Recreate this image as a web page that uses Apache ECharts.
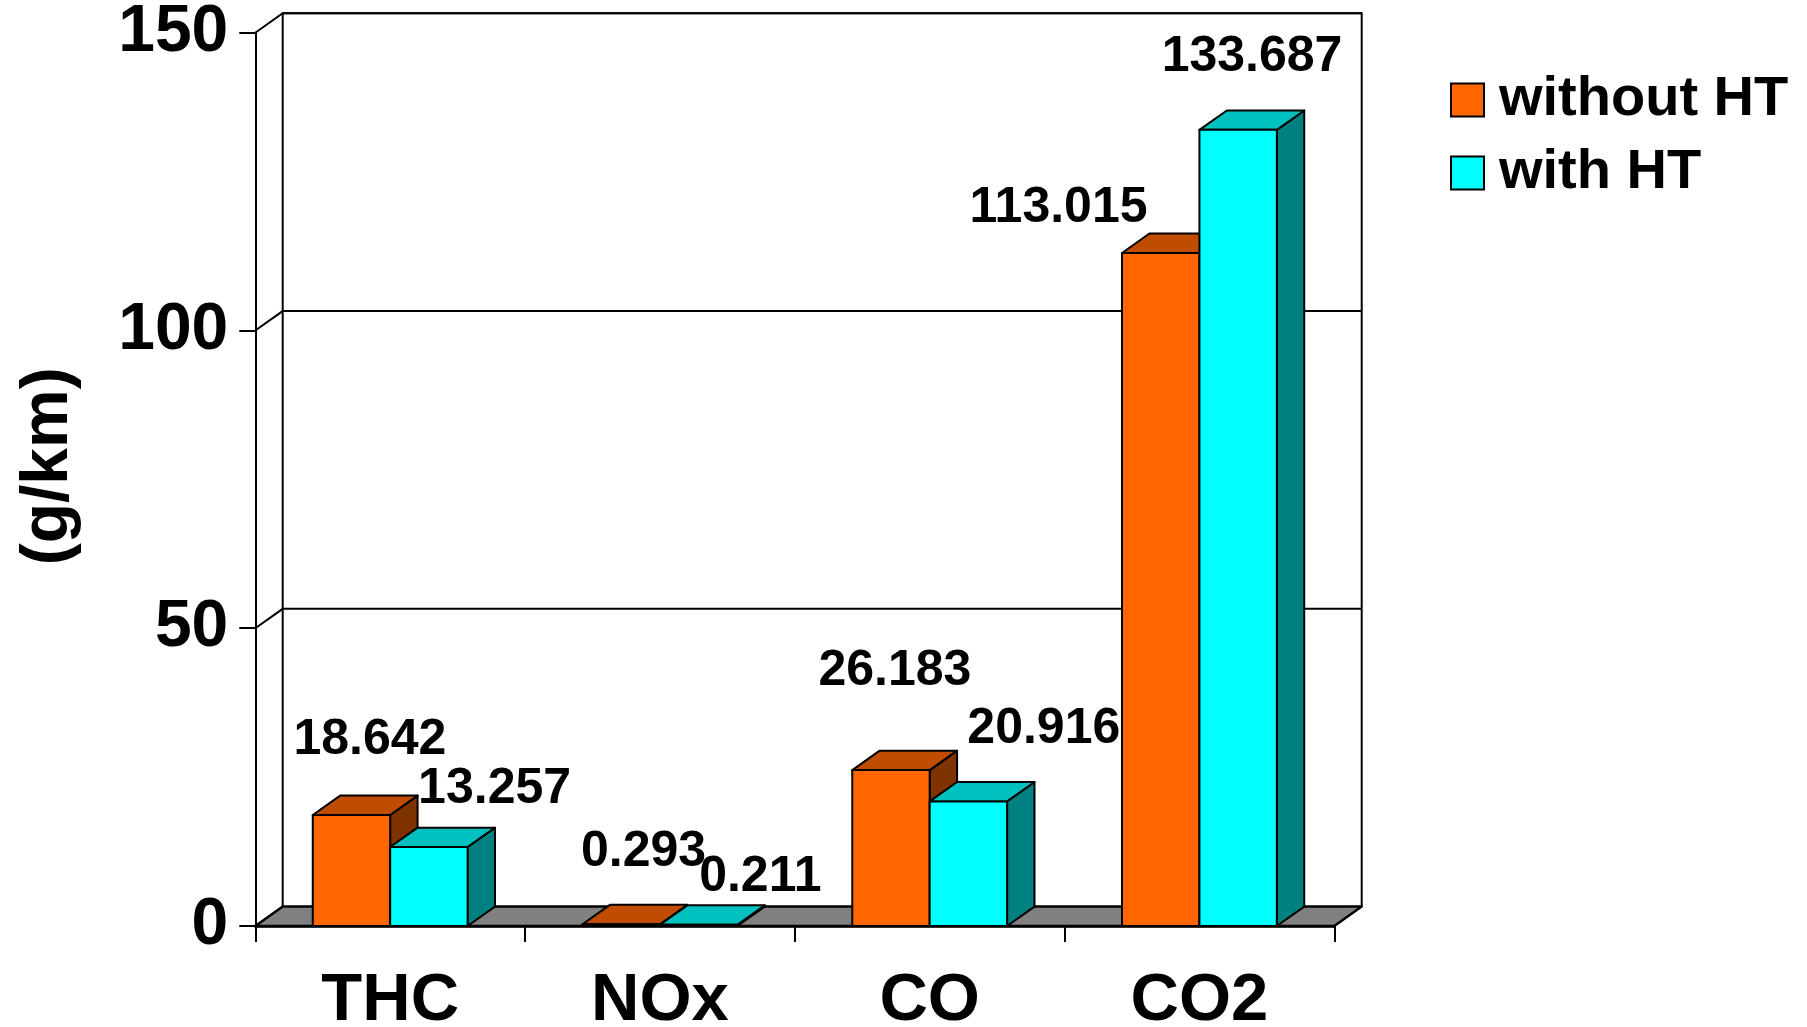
<!DOCTYPE html>
<html>
<head>
<meta charset="utf-8">
<title>Emissions with and without HT</title>
<script src="https://cdn.jsdelivr.net/npm/echarts@6/dist/echarts.min.js"></script>
<style>
  html, body { margin: 0; padding: 0; background: #ffffff; }
  #chart { width: 1807px; height: 1027px; }
</style>
</head>
<body>
<div id="chart"></div>
<script>
// ---- data ----
const CATEGORIES = ['THC', 'NOx', 'CO', 'CO2'];
const SERIES_NAMES = ['without HT', 'with HT'];
const WITHOUT_HT = [18.642, 0.293, 26.183, 113.015];
const WITH_HT = [13.257, 0.211, 20.916, 133.687];
const Y_MIN = 0;
const Y_MAX = 150;
const Y_STEP = 50;
const Y_NAME = '(g/km)';

// ---- styling ----
const FONT = '"Liberation Sans", Arial, Helvetica, sans-serif';
const DEPTH = [27.4, -19.4];          // pseudo-3D depth offset (px)
const BAR_FRACTION = 0.287;           // bar width as share of a category band
const FACE_COLORS = [
  { front: '#FF6600', top: '#C04C00', side: '#7F3300' },
  { front: '#00FFFF', top: '#00C0C0', side: '#008080' }
];
// where each value label sits, relative to the top-centre of the bar's front face (px)
const LABEL_NUDGE = [
  [[18.5, -74.5], [22.3, -72.3], [4, -99], [-102.2, -44.3]],
  [[65.7, -57.9], [61.7, -48], [75.4, -72.7], [13.9, -72.9]]
];
const SERIES_VALUES = [WITHOUT_HT, WITH_HT];

// floor, back wall and its gridlines
function frameRenderer(params, api) {
  const cs = params.coordSys;
  const [dx, dy] = DEPTH;
  const left = cs.x, right = cs.x + cs.width, bottom = cs.y + cs.height;
  const top = api.coord([0, Y_MAX])[1];
  const line = { stroke: '#000', lineWidth: 2, fill: null };
  const children = [
    {
      type: 'polygon',
      shape: { points: [[left, bottom], [right, bottom], [right + dx, bottom + dy], [left + dx, bottom + dy]] },
      style: { fill: '#808080', stroke: '#000', lineWidth: 2.5, lineJoin: 'round' }
    },
    {
      type: 'polyline',
      shape: { points: [[left + dx, bottom + dy], [left + dx, top + dy], [right + dx, top + dy], [right + dx, bottom + dy]] },
      style: line
    }
  ];
  for (let v = Y_MIN + Y_STEP; v <= Y_MAX; v += Y_STEP) {
    const y = api.coord([0, v])[1];
    children.push({
      type: 'polyline',
      shape: { points: [[left, y], [left + dx, y + dy], [right + dx, y + dy]] },
      style: line
    });
  }
  return { type: 'group', children };
}

// a shaded box per bar: side face, top face, front face, then its value label
function barRenderer(sIdx) {
  return function (params, api) {
    const cat = api.value(0);
    const val = api.value(1);
    const base = api.coord([cat, 0]);
    const tip = api.coord([cat, val]);
    const band = api.size([1, 0])[0];
    const bw = band * BAR_FRACTION;
    const x0 = base[0] - bw + sIdx * bw;
    const x1 = x0 + bw;
    const yb = base[1], yt = tip[1];
    const [dx, dy] = DEPTH;
    const col = FACE_COLORS[sIdx];
    const edge = { stroke: '#000', lineWidth: 2, lineJoin: 'round' };
    const nudge = LABEL_NUDGE[sIdx][params.dataIndex];
    return {
      type: 'group',
      children: [
        {
          type: 'polygon',
          shape: { points: [[x1, yb], [x1 + dx, yb + dy], [x1 + dx, yt + dy], [x1, yt]] },
          style: Object.assign({ fill: col.side }, edge)
        },
        {
          type: 'polygon',
          shape: { points: [[x0, yt], [x1, yt], [x1 + dx, yt + dy], [x0 + dx, yt + dy]] },
          style: Object.assign({ fill: col.top }, edge)
        },
        {
          type: 'rect',
          shape: { x: x0, y: yt, width: bw, height: yb - yt },
          style: Object.assign({ fill: col.front }, edge)
        },
        {
          type: 'text',
          style: {
            text: String(SERIES_VALUES[sIdx][params.dataIndex]),
            x: (x0 + x1) / 2 + nudge[0],
            y: yt + nudge[1],
            align: 'center',
            verticalAlign: 'middle',
            fill: '#000',
            font: 'bold 50px ' + FONT
          }
        }
      ]
    };
  };
}

const chart = echarts.init(document.getElementById('chart'), null, { renderer: 'canvas' });

chart.setOption({
  animation: false,
  backgroundColor: '#ffffff',
  grid: {
    left: 255.3, top: 32.7, width: 1079, height: 893.3,
    containLabel: false,
    outerBoundsMode: 'none'
  },
  legend: {
    data: SERIES_NAMES,
    orient: 'vertical',
    left: 1445,
    top: 67,
    padding: 5,
    itemWidth: 33,
    itemHeight: 33,
    itemGap: 17,
    icon: 'rect',
    itemStyle: { borderColor: '#000', borderWidth: 2 },
    textStyle: {
      fontSize: 56, fontWeight: 'bold', color: '#000', fontFamily: FONT,
      lineHeight: 33, padding: [0, 0, 0, 10]
    },
    selectedMode: false
  },
  xAxis: {
    type: 'category',
    data: CATEGORIES,
    boundaryGap: true,
    axisLine: { show: true, lineStyle: { color: '#000', width: 2.5 } },
    axisTick: { show: true, length: 16, alignWithLabel: false, interval: 0, lineStyle: { color: '#000', width: 2 } },
    axisLabel: { interval: 0, margin: 42, fontSize: 67, fontWeight: 'bold', color: '#000', fontFamily: FONT },
    splitLine: { show: false }
  },
  yAxis: {
    type: 'value',
    min: Y_MIN,
    max: Y_MAX,
    interval: Y_STEP,
    axisLine: { show: true, lineStyle: { color: '#000', width: 2 } },
    axisTick: { show: true, length: 16, lineStyle: { color: '#000', width: 2 } },
    axisLabel: { margin: 27, fontSize: 66, fontWeight: 'bold', color: '#000', fontFamily: FONT },
    splitLine: { show: false },
    name: Y_NAME,
    nameLocation: 'middle',
    nameRotate: 90,
    nameGap: 174,
    nameTextStyle: { fontSize: 66, fontWeight: 'bold', color: '#000', fontFamily: FONT, padding: [0, 0, 0, 26] }
  },
  series: [
    {
      type: 'custom',
      name: 'frame',
      renderItem: frameRenderer,
      data: [[0, 0]],
      encode: { x: 0, y: 1 },
      silent: true,
      z: 1
    },
    {
      type: 'custom',
      name: SERIES_NAMES[0],
      renderItem: barRenderer(0),
      data: WITHOUT_HT.map((v, i) => [i, v]),
      encode: { x: 0, y: 1 },
      itemStyle: { color: FACE_COLORS[0].front },
      z: 3
    },
    {
      type: 'custom',
      name: SERIES_NAMES[1],
      renderItem: barRenderer(1),
      data: WITH_HT.map((v, i) => [i, v]),
      encode: { x: 0, y: 1 },
      itemStyle: { color: FACE_COLORS[1].front },
      z: 4
    }
  ]
});
</script>
</body>
</html>
